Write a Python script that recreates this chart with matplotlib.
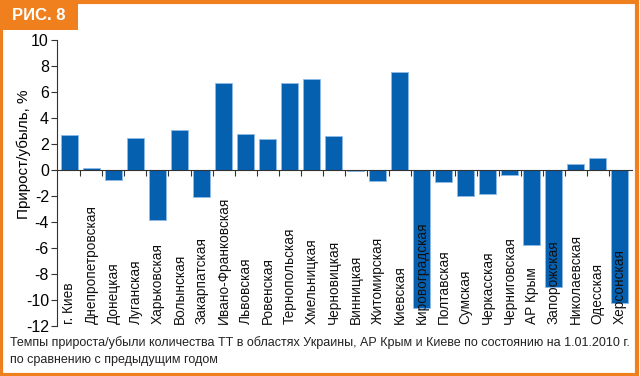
import matplotlib.pyplot as plt
import numpy as np

regions = ["г. Киев", "Днепропетровская", "Донецкая", "Луганская", "Харьковская",
           "Волынская", "Закарпатская", "Ивано-Франковская", "Львовская", "Ровенская",
           "Тернопольская", "Хмельницкая", "Черновицкая", "Винницкая", "Житомирская",
           "Киевская", "Кировоградская", "Полтавская", "Сумская", "Черкасская",
           "Черниговская", "АР Крым", "Запорожская", "Николаевская", "Одесская",
           "Херсонская"]
growth = [2.65, 0.15, -0.75, 2.45, -3.85, 3.1, -2.1, 6.7, 2.8, 2.35,
          6.7, 7.0, 2.6, -0.1, -0.85, 7.5, -10.6, -0.95, -2.0, -1.85,
          -0.4, -5.75, -9.0, 0.45, 0.95, -10.2]
y_ticks = [10, 8, 6, 4, 2, 0, -2, -4, -6, -8, -10, -12]

ORANGE = '#f07f1e'
BLUE = '#0560b0'

plt.rcParams['font.family'] = ['Liberation Sans', 'DejaVu Sans']

fig = plt.figure(figsize=(6.4, 3.76), dpi=100)
ax = fig.add_axes([0.0895, 0.133, 0.898, 0.761])

x = np.arange(len(regions))
ax.bar(x, growth, width=0.77, color=BLUE, edgecolor='#8fbbe6', linewidth=0.6, zorder=2)

ax.set_xlim(-0.55, len(regions) - 0.45)
ax.set_ylim(-12, 10)
ax.set_yticks(y_ticks)
ax.set_yticklabels([str(t) for t in y_ticks], fontsize=11.5)
ax.tick_params(axis='y', direction='out', length=4, width=0.8, color='#333333', pad=2)

ax.spines['top'].set_visible(False)
ax.spines['right'].set_visible(False)
ax.spines['bottom'].set_position(('data', 0))
ax.spines['bottom'].set_color('#333333')
ax.spines['left'].set_color('#333333')
ax.set_xticks(np.arange(len(regions) - 1) + 0.5)
ax.set_xticklabels([])
ax.tick_params(axis='x', direction='out', length=4, width=0.8, color='#333333')

for i, name in enumerate(regions):
    ax.text(i, -11.85, name, rotation=90, ha='center', va='bottom', fontsize=9.8,
            color='#111111', zorder=3)

ax.set_ylabel("Прирост/убыль, %", fontsize=11)
ax.yaxis.set_label_coords(-0.045, 0.6)

# caption
fig.text(0.016, 0.09, "Темпы прироста/убыли количества ТТ в областях Украины, АР Крым и Киеве по состоянию на 1.01.2010 г.",
         fontsize=9, family=['Liberation Sans Narrow', 'Liberation Sans'], va='center', color='#222222')
fig.text(0.016, 0.042, "по сравнению с предыдущим годом",
         fontsize=9, family=['Liberation Sans Narrow', 'Liberation Sans'], va='center', color='#222222')

# orange frame and tab
fig.patches.append(plt.Rectangle((0.002, 0.003), 0.994, 0.992, transform=fig.transFigure,
                                 fill=False, edgecolor=ORANGE, linewidth=3))
fig.patches.append(plt.Rectangle((0, 0.92), 0.122, 0.08, transform=fig.transFigure,
                                 facecolor=ORANGE, edgecolor='none'))
fig.text(0.06, 0.958, "РИС. 8", color='white', fontsize=12, fontweight='bold',
         ha='center', va='center')

fig.savefig('out.png', dpi=100)
